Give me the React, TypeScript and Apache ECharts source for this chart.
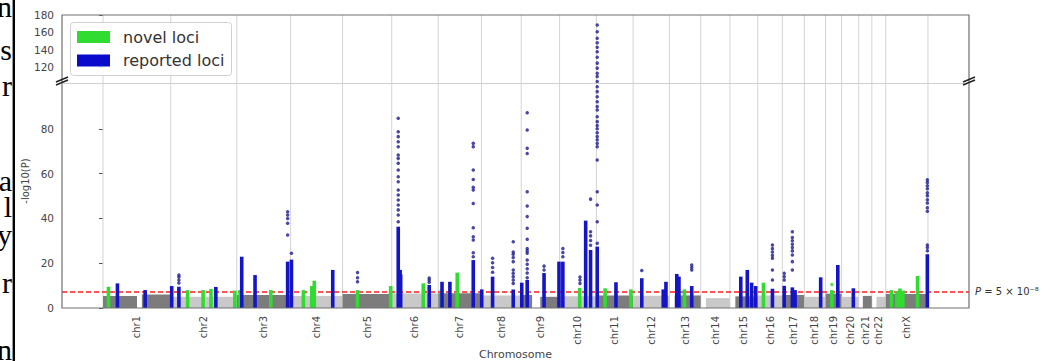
import React, { useEffect, useRef } from 'react';
import * as echarts from 'echarts';

// ---------- data ----------
const chromNames = ['chr1','chr2','chr3','chr4','chr5','chr6','chr7','chr8','chr9','chr10','chr11','chr12','chr13','chr14','chr15','chr16','chr17','chr18','chr19','chr20','chr21','chr22','chrX'];
// chromosome lengths (Mb)
const chromLengths = [249.25,243.2,198.0,191.15,180.9,171.1,159.1,146.4,141.2,135.5,135.0,133.85,115.2,107.3,102.5,90.35,81.2,78.1,59.1,63.0,48.1,51.3,155.3];
const axisPadMb = 151;
const lowerTicks = [0, 20, 40, 60, 80];
const upperTicks = [120, 140, 160, 180];
const thresholdLogP = 7.3; // -log10(5e-8)

// background (non-significant SNP band): [chrIndex, startMb, endMb, -log10P envelope]
const backgroundSegments: [number, number, number, number][] = [
  [0, 0, 125, 5.4], [0, 143, 249, 6.0], [1, 0, 243, 5.0], [2, 0, 198, 5.8], [3, 0, 191, 5.4],
  [4, 0, 181, 6.3], [5, 0, 171, 6.5], [6, 0, 159, 6.6], [7, 0, 146, 5.6], [8, 0, 40, 5.8],
  [8, 70, 141, 5.0], [9, 0, 135, 5.2], [10, 0, 135, 5.6], [11, 0, 134, 5.5], [12, 19, 115, 5.6],
  [13, 19, 107, 4.4], [14, 20, 102, 5.2], [15, 0, 90, 5.6], [16, 0, 81, 5.8], [17, 0, 78, 5.0],
  [18, 0, 59, 6.4], [19, 0, 63, 5.0], [20, 15, 48, 5.4], [21, 17, 51, 5.0], [22, 0, 155, 6.2],
];

// novel loci: [chrIndex, posMb, top -log10P of dense column]
const novelColumns: [number, number, number][] = [
  [0, 20, 9.5], [1, 62, 8.0], [1, 119, 8.0], [1, 148, 8.5], [1, 236, 7.8], [2, 12, 8.0],
  [2, 125, 8.0], [3, 47, 8.0], [3, 78, 9.8], [3, 87, 12.2], [4, 55, 8.0], [4, 177, 9.8],
  [5, 116, 11.0], [6, 12, 8.0], [6, 70, 15.8], [9, 74, 9.0], [10, 32, 8.8], [10, 127, 8.3],
  [11, 117, 8.0], [12, 55, 8.3], [15, 21, 11.3], [18, 23, 8.0], [22, 21, 8.0], [22, 41, 7.5],
  [22, 52, 8.7], [22, 63, 7.8], [22, 117, 14.3],
];
const novelDots: [number, number, number[]][] = [[18, 23, [10.5]]];

// reported loci: [chrIndex, posMb, top -log10P of dense column]
const reportedColumns: [number, number, number][] = [
  [0, 53, 11.0], [0, 155, 8.0], [1, 3.5, 9.8], [1, 30, 9.5], [1, 166, 9.4], [2, 18, 22.9],
  [2, 67, 14.7], [2, 187, 20.7], [3, 3, 21.6], [3, 155, 17.0], [5, 24, 36.3], [5, 31, 17.0],
  [5, 33, 15.0], [5, 138, 10.3], [6, 14, 11.7], [6, 43, 11.7], [6, 129, 21.4], [7, 1, 8.3],
  [7, 41, 14.0], [7, 117, 8.3], [8, 2, 11.3], [8, 22, 12.5], [8, 84, 15.6], [8, 139, 20.7],
  [9, 12, 20.7], [9, 96, 39.0], [9, 114, 25.9], [10, 3, 27.4], [10, 72, 11.5], [11, 32, 13.3],
  [11, 111, 8.3], [11, 121, 11.7], [12, 27, 15.2], [12, 35, 14.0], [12, 82, 9.8], [14, 40, 14.0],
  [14, 64, 17.0], [14, 80, 11.3], [14, 95, 9.8], [15, 54, 8.6], [16, 7, 9.9], [16, 37, 9.2],
  [16, 47, 8.0], [17, 60, 13.7], [18, 45, 19.2], [19, 43, 8.8], [22, 153, 24.0],
];
// reported loci, isolated SNPs above the dense column: [chrIndex, posMb, values]
const reportedDots: [number, number, number[]][] = [
  [1, 30, [11.2, 12.5, 13.8, 14.7]],
  [2, 187, [32.6, 37.8, 40.0, 41.5, 43.0]],
  [3, 3, [24.4]],
  [4, 55, [11.7, 13.5, 15.8]],
  [5, 24, [38.5, 41.5, 43.8, 46.0, 48.2, 50.4, 52.7, 56.4, 58.6, 61.6, 64.6, 66.8, 68.3, 72.0, 74.2, 76.5, 78.7, 84.7]],
  [5, 138, [11.5, 12.5, 13.4]],
  [6, 129, [22.9, 24.7, 30.4, 31.8, 35.8, 46.7, 52.7, 53.9, 57.4, 61.6, 72.0, 73.5]],
  [7, 41, [16.0, 18.1, 20.2, 22.2]],
  [7, 117, [11.0, 12.5, 14.0, 15.5, 17.0, 20.7, 22.5, 24.0, 25.0, 29.6]],
  [8, 22, [13.5, 15.6, 17.5, 19.5, 21.4, 24.4, 25.5, 26.6, 30.7, 35.6, 40.8, 45.5, 51.9, 69.0, 71.3, 79.5, 87.2]],
  [8, 84, [17.0, 18.7]],
  [9, 12, [22.9, 24.8, 26.6]],
  [9, 75, [11.0, 12.5, 13.8]],
  [9, 114, [28.0, 30.1, 32.2, 34.0, 48.6]],
  [10, 3, [28.9, 38.5, 46.0, 51.9, 66.1, 72.0, 73.5, 75.1, 76.6, 78.2, 80.0, 81.5, 83.2, 85.4, 88.4, 89.9, 92.1, 94.3, 96.6, 98.8,
    103.0, 108.8, 112.4, 118.4, 124.2, 131.0, 137.5, 142.7, 147.9, 153.0, 160.7, 168.5]],
  [11, 32, [16.7]],
  [12, 82, [17.0, 18.1, 19.2]],
  [15, 54, [12.5, 17.0, 22.2, 23.5, 25.0, 26.5, 28.1]],
  [16, 7, [12.5, 14.0, 15.5]],
  [16, 37, [17.0, 20.7, 23.7, 25.5, 27.0, 28.5, 30.0, 31.5, 34.0]],
  [22, 153, [25.6, 27.0, 28.1, 43.2, 44.8, 46.9, 48.3, 50.1, 51.4, 53.2, 54.6, 56.0, 57.2]],
];

// cropped page text visible at the far left: [glyph, vertical centre]
const pageGlyphs: [string, number][] = [['n', 6], ['s', 49], ['r', 85], ['a', 180], ['l', 206], ['y', 234], ['r', 282], ['n', 349]];

// ---------- styles ----------
const FONT = 'DejaVu Sans';
const GREEN = '#2fdc2f';
const BLUE = '#1515c8';
const BLUE_DOT = '#1a1a90';
const DARK_GRAY = '#7c7c7c';
const LIGHT_GRAY = '#c9c9c9';
const RED = '#ff1a1a';
const TEXT = '#444';

export default function App() {
  const ref = useRef<HTMLDivElement>(null);

  useEffect(() => {
    const chart = echarts.init(ref.current as HTMLDivElement, null, { renderer: 'svg' });

    const chromStarts: number[] = [];
    let acc = 0;
    for (const L of chromLengths) { chromStarts.push(acc); acc += L; }
    const genomeEnd = acc;
    const boundaries = [...chromStarts, genomeEnd];
    const centers = chromStarts.map((s, i) => s + chromLengths[i] / 2);
    const abs = (ci: number, pos: number) => chromStarts[ci] + pos;
    const xMin = -axisPadMb;
    const xMax = genomeEnd + axisPadMb;

    const bgData = backgroundSegments.map(([ci, s, e, h]) => [abs(ci, s), abs(ci, e), h, ci % 2]);
    const novelColData = novelColumns.map(([ci, p, t]) => [abs(ci, p), t]);
    const reportedColData = reportedColumns.map(([ci, p, t]) => [abs(ci, p), t]);
    const dotsLower = (list: [number, number, number[]][]) => {
      const out: number[][] = [];
      list.forEach(([ci, p, vals]) => vals.forEach((v) => { if (v < 100) out.push([abs(ci, p), v]); }));
      return out;
    };
    const dotsUpper = (list: [number, number, number[]][]) => {
      const out: number[][] = [];
      list.forEach(([ci, p, vals]) => vals.forEach((v) => { if (v >= 100) out.push([abs(ci, p), v]); }));
      return out;
    };

    const columnRender = (color: string) => (params: any, api: any) => {
      const x = api.value(0);
      const top = api.value(1);
      const a = api.coord([x, 0]);
      const b = api.coord([x, top]);
      return { type: 'rect', shape: { x: a[0] - 1.8, y: b[1], width: 3.6, height: a[1] - b[1] }, style: { fill: color } };
    };

    const gridLineRender = (params: any, api: any) => {
      const cs = params.coordSys;
      const px = api.coord([api.value(0), api.value(1)])[0];
      return { type: 'line', shape: { x1: px, y1: cs.y, x2: px, y2: cs.y + cs.height }, style: { stroke: '#d4d4d4', lineWidth: 1 } };
    };

    const option: any = {
      animation: false,
      backgroundColor: '#fff',
      textStyle: { fontFamily: FONT },
      grid: [
        { left: 62, top: 15, width: 907, height: 69 },
        { left: 62, top: 84, width: 907, height: 224 },
      ],
      xAxis: [
        { gridIndex: 0, type: 'value', min: xMin, max: xMax, show: false },
        {
          gridIndex: 1, type: 'value', min: xMin, max: xMax,
          axisLine: { show: false }, axisTick: { show: false }, splitLine: { show: false },
          axisLabel: {
            customValues: centers,
            rotate: 90, margin: 8, fontSize: 10, color: TEXT, fontFamily: FONT,
            formatter: (v: number) => {
              let best = 0;
              centers.forEach((c, i) => { if (Math.abs(c - v) < Math.abs(centers[best] - v)) best = i; });
              return chromNames[best];
            },
          },
        },
      ],
      yAxis: [
        {
          gridIndex: 0, type: 'value', min: 100, max: 180, interval: 20,
          axisLine: { show: false }, splitLine: { show: false },
          axisTick: { show: true, length: 4, customValues: upperTicks, lineStyle: { color: '#555' } },
          axisLabel: { customValues: upperTicks, fontSize: 10.5, color: TEXT, margin: 8, fontFamily: FONT },
        },
        {
          gridIndex: 1, type: 'value', min: 0, max: 100, interval: 20,
          axisLine: { show: false }, splitLine: { show: false },
          axisTick: { show: true, length: 4, customValues: lowerTicks, lineStyle: { color: '#555' } },
          axisLabel: { customValues: lowerTicks, fontSize: 10.5, color: TEXT, margin: 8, fontFamily: FONT },
        },
      ],
      series: [
        { type: 'custom', xAxisIndex: 0, yAxisIndex: 0, z: 1, silent: true, data: boundaries.map((b) => [b, 150]), renderItem: gridLineRender },
        { type: 'custom', xAxisIndex: 1, yAxisIndex: 1, z: 1, silent: true, data: boundaries.map((b) => [b, 50]), renderItem: gridLineRender },
        {
          type: 'custom', xAxisIndex: 1, yAxisIndex: 1, z: 2, silent: true, data: bgData,
          renderItem: (params: any, api: any) => {
            const a = api.coord([api.value(0), api.value(2)]);
            const b = api.coord([api.value(1), 0]);
            return { type: 'rect', shape: { x: a[0], y: a[1], width: b[0] - a[0], height: b[1] - a[1] }, style: { fill: api.value(3) === 0 ? DARK_GRAY : LIGHT_GRAY } };
          },
          markLine: {
            silent: true,
            symbol: ['none', 'none'],
            z: 3,
            lineStyle: { color: RED, width: 1.6, type: [5, 3], opacity: 1 },
            label: {
              show: true, position: 'end', distance: 6,
              formatter: '{i|P} = 5 × 10⁻⁸',
              color: '#333', fontSize: 10, fontFamily: FONT,
              rich: { i: { fontStyle: 'italic', fontSize: 10, fontFamily: FONT, color: '#333' } },
            },
            emphasis: { disabled: true },
            data: [{ yAxis: thresholdLogP }],
          },
        },
        { name: 'novel loci', type: 'custom', xAxisIndex: 1, yAxisIndex: 1, z: 4, silent: true, itemStyle: { color: GREEN }, data: novelColData, renderItem: columnRender(GREEN) },
        { name: 'reported loci', type: 'custom', xAxisIndex: 1, yAxisIndex: 1, z: 5, silent: true, itemStyle: { color: BLUE }, data: reportedColData, renderItem: columnRender(BLUE) },
        { name: 'novel loci', type: 'scatter', xAxisIndex: 1, yAxisIndex: 1, z: 6, silent: true, symbolSize: 3.5, itemStyle: { color: GREEN }, data: dotsLower(novelDots) },
        { name: 'reported loci', type: 'scatter', xAxisIndex: 1, yAxisIndex: 1, z: 6, silent: true, symbolSize: 3.5, itemStyle: { color: BLUE_DOT }, data: dotsLower(reportedDots) },
        { name: 'reported loci', type: 'scatter', xAxisIndex: 0, yAxisIndex: 0, z: 6, silent: true, symbolSize: 3.5, itemStyle: { color: BLUE_DOT }, data: dotsUpper(reportedDots) },
      ],
      graphic: [
        // cropped page text and rule on the left
        { type: 'line', silent: true, z: 100, shape: { x1: 13.8, y1: 0, x2: 13.8, y2: 361 }, style: { stroke: '#000', lineWidth: 2.4 } },
        ...pageGlyphs.map(([t, y]) => ({
          type: 'text', silent: true, z: 100, x: 12, y,
          style: {
            text: t, fontSize: 30, lineHeight: 18, fontFamily: 'Liberation Serif', fill: '#000',
            align: 'right', verticalAlign: 'middle', textAlign: 'right', textVerticalAlign: 'middle',
          },
        })),
        // frame
        { type: 'rect', silent: true, z: 50, shape: { x: 62, y: 15, width: 907, height: 293 }, style: { fill: 'none', stroke: '#707070', lineWidth: 1.2 } },
        { type: 'line', silent: true, z: 50, shape: { x1: 62, y1: 83.5, x2: 969, y2: 83.5 }, style: { stroke: '#d0d0d0', lineWidth: 1 } },
        // axis break marks
        { type: 'line', silent: true, z: 60, shape: { x1: 56, y1: 85, x2: 68, y2: 80 }, style: { stroke: '#222', lineWidth: 1.5 } },
        { type: 'line', silent: true, z: 60, shape: { x1: 56, y1: 82, x2: 68, y2: 77 }, style: { stroke: '#222', lineWidth: 1.5 } },
        { type: 'line', silent: true, z: 60, shape: { x1: 963, y1: 85, x2: 975, y2: 80 }, style: { stroke: '#222', lineWidth: 1.5 } },
        { type: 'line', silent: true, z: 60, shape: { x1: 963, y1: 82, x2: 975, y2: 77 }, style: { stroke: '#222', lineWidth: 1.5 } },
        // axis titles
        {
          type: 'text', silent: true, z: 60, x: 25, y: 181, rotation: Math.PI / 2,
          style: { text: '-log10(P)', fontSize: 10, fontFamily: FONT, fill: TEXT, align: 'center', verticalAlign: 'middle', textAlign: 'center', textVerticalAlign: 'middle' },
        },
        {
          type: 'text', silent: true, z: 60, x: 515.5, y: 354,
          style: { text: 'Chromosome', fontSize: 11, fontFamily: FONT, fill: TEXT, align: 'center', verticalAlign: 'middle', textAlign: 'center', textVerticalAlign: 'middle' },
        },
        // legend
        { type: 'rect', silent: true, z: 100, shape: { x: 70.5, y: 22.5, width: 161, height: 53, r: 3 }, style: { fill: 'rgba(255,255,255,0.85)', stroke: '#d0d0d0', lineWidth: 1 } },
        { type: 'rect', silent: true, z: 101, shape: { x: 77, y: 31, width: 33, height: 12 }, style: { fill: GREEN } },
        {
          type: 'text', silent: true, z: 101, x: 123, y: 37,
          style: { text: 'novel loci', fontSize: 16, fontFamily: FONT, fill: '#333', align: 'left', verticalAlign: 'middle', textAlign: 'left', textVerticalAlign: 'middle' },
        },
        { type: 'rect', silent: true, z: 101, shape: { x: 77, y: 54.5, width: 33, height: 12 }, style: { fill: '#0a0acc' } },
        {
          type: 'text', silent: true, z: 101, x: 123, y: 60.5,
          style: { text: 'reported loci', fontSize: 16, fontFamily: FONT, fill: '#333', align: 'left', verticalAlign: 'middle', textAlign: 'left', textVerticalAlign: 'middle' },
        },
      ],
    };

    chart.setOption(option);
    return () => chart.dispose();
  }, []);

  return <div ref={ref} style={{ position: 'fixed', left: 0, top: 0, width: 1053, height: 361, background: '#fff' }} />;
}
